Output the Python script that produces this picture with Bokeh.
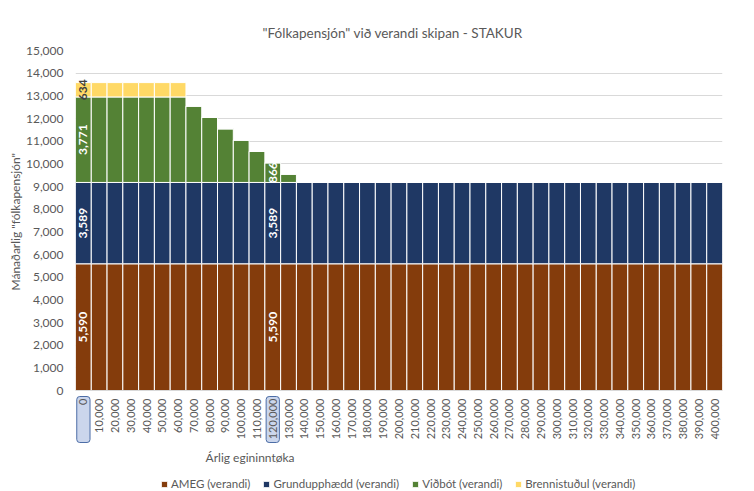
import math
from bokeh.plotting import figure
from bokeh.models import (ColumnDataSource, FactorRange, Range1d, NumeralTickFormatter,
                          FixedTicker, Legend, LegendItem, Label, Title)
from bokeh.core.properties import value
from bokeh.embed import file_html
from bokeh.resources import INLINE

# ---------------- data ----------------
categories = ["0", "10,000", "20,000", "30,000", "40,000", "50,000", "60,000", "70,000",
              "80,000", "90,000", "100,000", "110,000", "120,000", "130,000", "140,000",
              "150,000", "160,000", "170,000", "180,000", "190,000", "200,000", "210,000",
              "220,000", "230,000", "240,000", "250,000", "260,000", "270,000", "280,000",
              "290,000", "300,000", "310,000", "320,000", "330,000", "340,000", "350,000",
              "360,000", "370,000", "380,000", "390,000", "400,000"]

ameg = [5590, 5590, 5590, 5590, 5590, 5590, 5590, 5590, 5590, 5590, 5590, 5590, 5590, 5590,
        5590, 5590, 5590, 5590, 5590, 5590, 5590, 5590, 5590, 5590, 5590, 5590, 5590, 5590,
        5590, 5590, 5590, 5590, 5590, 5590, 5590, 5590, 5590, 5590, 5590, 5590, 5590]
grund = [3589, 3589, 3589, 3589, 3589, 3589, 3589, 3589, 3589, 3589, 3589, 3589, 3589, 3589,
         3589, 3589, 3589, 3589, 3589, 3589, 3589, 3589, 3589, 3589, 3589, 3589, 3589, 3589,
         3589, 3589, 3589, 3589, 3589, 3589, 3589, 3589, 3589, 3589, 3589, 3589, 3589]
vidbot = [3771, 3771, 3771, 3771, 3771, 3771, 3771, 3366, 2866, 2366, 1866, 1366, 866, 366,
          0, 0, 0, 0, 0, 0, 0, 0, 0, 0, 0, 0, 0, 0,
          0, 0, 0, 0, 0, 0, 0, 0, 0, 0, 0, 0, 0]
brenni = [634, 634, 634, 634, 634, 634, 634, 0, 0, 0, 0, 0, 0, 0,
          0, 0, 0, 0, 0, 0, 0, 0, 0, 0, 0, 0, 0, 0,
          0, 0, 0, 0, 0, 0, 0, 0, 0, 0, 0, 0, 0]

y_ticks = [0, 1000, 2000, 3000, 4000, 5000, 6000, 7000, 8000, 9000, 10000,
           11000, 12000, 13000, 14000, 15000]

series_names = ["AMEG (verandi)", "Grundupphædd (verandi)", "Viðbót (verandi)", "Brennistuðul (verandi)"]
series_keys = ["ameg", "grund", "vidbot", "brenni"]
colors = ["#843C0C", "#1F3864", "#548235", "#FFD966"]
label_colors = ["white", "white", "white", "#404040"]
labelled_categories = ["0", "120,000"]

title_text = "\"Fólkapensjón\" við verandi skipan - STAKUR"
y_title = "Mánaðarlig \"fólkapensjón\""
x_title = "Árlig egininntøka"

FONT = "Lato"
GREY = "#595959"

# layout (pixels)
W, H = 754, 491
FRAME_LEFT, FRAME_RIGHT, FRAME_TOP, ZERO_Y = 75, 722, 50, 390
Y_MAX = 15000
units_per_px = Y_MAX / (ZERO_Y - FRAME_TOP)
y_start = -(H - ZERO_Y) * units_per_px

source = ColumnDataSource(data=dict(cat=categories, ameg=ameg, grund=grund, vidbot=vidbot, brenni=brenni))

p = figure(width=W, height=H, x_range=FactorRange(*categories, range_padding=0),
           y_range=Range1d(y_start, Y_MAX), output_backend="svg", toolbar_location=None,
           min_border_left=FRAME_LEFT, min_border_right=W - FRAME_RIGHT,
           min_border_top=FRAME_TOP, min_border_bottom=0)

# highlighted category boxes (drawn under the tick labels)
p.vbar(x=labelled_categories, width=0.84, top=-6 * units_per_px, bottom=-52 * units_per_px,
       fill_color="#CBD6EC", line_color="#4C6DA6", line_width=1, border_radius=3)

renderers = p.vbar_stack(series_keys, x="cat", width=1.0, source=source, color=colors,
                         line_color="white", line_width=1)

# data labels
lx, ly, lt, lc = [], [], [], []
data_lists = [ameg, grund, vidbot, brenni]
for c in labelled_categories:
    i = categories.index(c)
    base = 0
    for k, arr in enumerate(data_lists):
        v = arr[i]
        if v > 0:
            lx.append(c)
            ly.append(base + v / 2)
            lt.append(f"{v:,}")
            lc.append(label_colors[k])
        base += v
lsrc = ColumnDataSource(data=dict(x=lx, y=ly, t=lt, c=lc))
p.text(x="x", y="y", text="t", source=lsrc, angle=math.pi / 2, text_align="center",
       text_baseline="middle", text_color="c", text_font=value(FONT), text_font_size="12px",
       text_font_style="bold")

# title
p.title.text = title_text
p.title.align = "left"
p.title.offset = 187
p.title.text_font = FONT
p.title.text_font_size = "13.5px"
p.title.text_font_style = "normal"
p.title.text_color = GREY
p.title.standoff = 20

# y axis
p.yaxis.ticker = FixedTicker(ticks=y_ticks)
p.yaxis.formatter = NumeralTickFormatter(format="0,0")
p.yaxis.axis_line_color = None
p.yaxis.major_tick_line_color = None
p.yaxis.major_tick_out = 0
p.yaxis.major_tick_in = 0
p.yaxis.minor_tick_line_color = None
p.yaxis.major_label_text_font = FONT
p.yaxis.major_label_text_font_size = "12px"
p.yaxis.major_label_text_color = GREY
p.yaxis.major_label_standoff = 12
p.add_layout(Title(text=y_title, align="left", offset=H - 290, text_font=FONT,
                   text_font_size="12px", text_font_style="normal", text_color=GREY,
                   standoff=0), "left")

# x axis, pinned at y = 0 inside the frame
p.xaxis.fixed_location = 0
p.xaxis.axis_line_color = "#D9D9D9"
p.xaxis.major_tick_line_color = None
p.xaxis.major_tick_out = 0
p.xaxis.major_tick_in = 0
p.xaxis.minor_tick_line_color = None
p.xaxis.major_label_orientation = math.pi / 2
p.xaxis.major_label_text_font = FONT
p.xaxis.major_label_text_font_size = "11px"
p.xaxis.major_label_text_color = GREY
p.xaxis.major_label_standoff = 8

p.xgrid.grid_line_color = None
p.ygrid.grid_line_color = "#D9D9D9"
p.ygrid.grid_line_width = 1
p.outline_line_color = None

# x axis title (placed as in reference, left of centre)
p.add_layout(Label(x=categories.index("110,000"), x_offset=1, y=-67 * units_per_px,
                   text=x_title, text_align="center", text_baseline="middle",
                   text_font=FONT, text_font_size="12px", text_color=GREY))

legend = Legend(items=[LegendItem(label=n, renderers=[r]) for n, r in zip(series_names, renderers)],
                orientation="horizontal", location=(85, 1), padding=0, margin=0,
                spacing=12, glyph_width=8, glyph_height=8, label_standoff=3,
                label_text_font=FONT, label_text_font_size="11.5px", label_text_color=GREY,
                border_line_color=None, background_fill_alpha=0)
p.add_layout(legend)

open("out.html", "w").write(file_html(p, INLINE))
